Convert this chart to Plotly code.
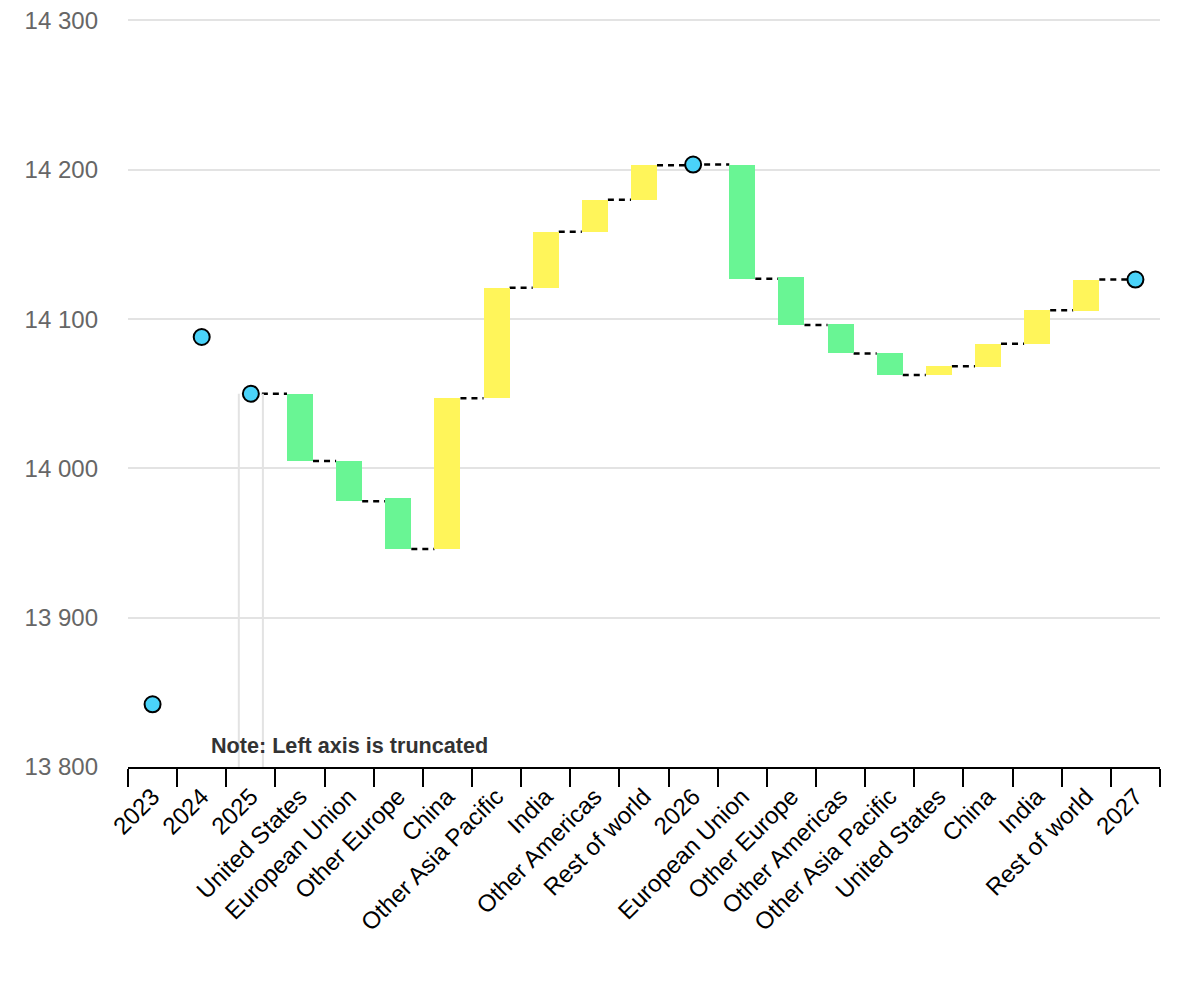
import plotly.graph_objects as go

# ---- data ----
categories = ["2023", "2024", "2025", "United States", "European Union", "Other Europe",
              "China", "Other Asia Pacific", "India", "Other Americas", "Rest of world",
              "2026", "European Union", "Other Europe", "Other Americas", "Other Asia Pacific",
              "United States", "China", "India", "Rest of world", "2027"]
# totals (None for change bars)
totals = [13842, 14088, 14050, None, None, None, None, None, None, None, None,
          14203.5, None, None, None, None, None, None, None, None, 14126.5]
# change bars: start and end levels (None for totals)
bar_start = [None, None, None, 14050, 14005, 13980, 13946, 14047, 14121, 14158.5, 14180,
             None, 14203, 14128, 14097, 14077, 14062.5, 14068, 14083.5, 14105.5, None]
bar_end = [None, None, None, 14005, 13978, 13946, 14047, 14121, 14158.5, 14180, 14203,
           None, 14127, 14096, 14077, 14062.5, 14068.5, 14083.5, 14106, 14126.5, None]
y_ticks = [13800, 13900, 14000, 14100, 14200, 14300]

GREEN = "#69F594"
YELLOW = "#FFF55A"
CYAN = "#4AD3F9"
BAR_W = 0.53

# unique category keys (duplicates get an invisible zero-width suffix)
keys = []
seen = {}
for c in categories:
    n = seen.get(c, 0)
    keys.append(c + "\u200b" * n)
    seen[c] = n + 1

fig = go.Figure()

bx, bbase, blen, bcol = [], [], [], []
for k, s, e in zip(keys, bar_start, bar_end):
    if s is None:
        continue
    bx.append(k)
    bbase.append(min(s, e))
    blen.append(abs(e - s))
    bcol.append(GREEN if e < s else YELLOW)

fig.add_trace(go.Bar(x=bx, y=blen, base=bbase, marker=dict(color=bcol, line=dict(width=0)),
                     width=BAR_W, showlegend=False, hoverinfo="skip"))

px_, py_ = [], []
for k, t in zip(keys, totals):
    if t is not None:
        px_.append(k)
        py_.append(t)
fig.add_trace(go.Scatter(x=px_, y=py_, mode="markers",
                         marker=dict(size=16, color=CYAN, line=dict(color="black", width=2)),
                         showlegend=False, hoverinfo="skip"))

# connectors
shapes = []
n = len(categories)
for i in range(n - 1):
    j = i + 1
    if totals[i] is not None and totals[j] is not None:
        continue
    level = totals[i] if totals[i] is not None else bar_end[i]
    x0 = i if totals[i] is not None else i + BAR_W / 2
    x1 = j if totals[j] is not None else j - BAR_W / 2
    shapes.append(dict(type="line", xref="x", yref="y", x0=x0, x1=x1, y0=level, y1=level,
                       line=dict(color="black", width=2.5, dash="6px,5px"), layer="between"))

# faint outline below the 2025 total
idx25 = categories.index("2025")
for off in (-0.245, 0.245):
    shapes.append(dict(type="line", xref="x", yref="y", x0=idx25 + off, x1=idx25 + off,
                       y0=y_ticks[0], y1=totals[idx25],
                       line=dict(color="#e3e3e3", width=2), layer="between"))

fig.update_layout(
    width=1200, height=1000,
    margin=dict(l=128, r=40, t=19, b=233),
    plot_bgcolor="white", paper_bgcolor="white",
    font=dict(family="Liberation Sans, Arial, sans-serif"),
    separators=". ",
    shapes=shapes,
    bargap=0,
    annotations=[dict(text="<b>Note: Left axis is truncated</b>", xref="paper", yref="paper",
                      x=0.0785, y=0.029, xanchor="left", yanchor="middle", showarrow=False,
                      font=dict(size=21.6, color="#333333"))],
)
fig.update_xaxes(type="category", categoryorder="array", categoryarray=keys,
                 tickangle=-45, tickfont=dict(size=24, color="black"),
                 ticks="outside", tickson="boundaries", ticklen=18, tickwidth=2, tickcolor="black",
                 showline=True, linecolor="black", linewidth=2, showgrid=False,
                 ticklabelstandoff=4, automargin=False, range=[-0.5, n - 0.5])
fig.update_yaxes(range=[y_ticks[0], y_ticks[-1] + 1], tickvals=y_ticks, tickformat=",d",
                 showgrid=True, gridcolor="#e3e3e3", gridwidth=2, zeroline=False, showline=False,
                 automargin=False,
                 tickfont=dict(size=24, color="#666666"), ticklabelstandoff=29)

fig.write_html("out.html")
